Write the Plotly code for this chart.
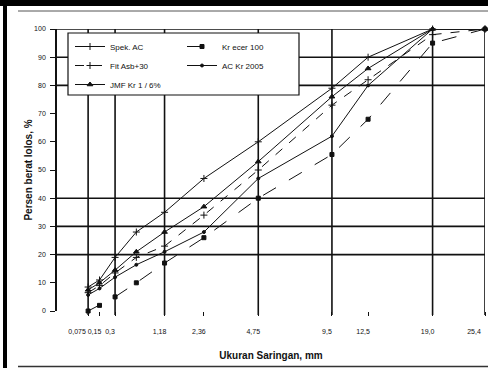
import plotly.graph_objects as go

# ---- data ----
sieve_mm = [0.075, 0.15, 0.3, 0.6, 1.18, 2.36, 4.75, 9.5, 12.5, 19.0, 25.4]

spek_ac = [8.5, 11, 19, 28, 35, 47, 60, 79, 90, 100, 100]
fit_asb = [6.5, 9, 13.5, 19, 23, 34, 50, 73, 82, 98, 100]
jmf_kr = [7.5, 10, 14.5, 21, 28, 37, 53, 76, 86, 100, 100]
kr_ecer = [0, 2, 5, 10, 17, 26, 40, 55.5, 68, 95, 100]
ac_kr = [5.7, 8, 12, 16.4, 21, 28, 47, 62, 80, 100, 100]

# inner tick labels
tick_mm = [0.15, 0.3, 1.18, 2.36, 4.75, 9.5, 12.5, 19.0]
tick_text = ["0,15", "0,3", "1,18", "2,36", "4,75", "9,5", "12,5", "19,0"]
# end tick labels (drawn a little further left, as in the original)
end_tick_mm = [0.075, 25.4]
end_tick_text = ["0,075", "25,4"]

grid_x_mm = [0.075, 0.3, 1.18, 4.75, 9.5, 19.0, 25.4]
grid_y = [20, 30, 40, 80, 90, 100]

POW = 0.45
def tx(d):
    return d ** POW

xs = [tx(d) for d in sieve_mm]

# layout geometry (pixels)
W, H = 488, 368
L, R, T, B = 57, 3, 29, 57
PW, PH = W - L - R, H - T - B

def pxx(px):
    return (px - L) / PW

def pxy(py):
    return (H - B - py) / PH

font = "Liberation Sans, Arial, sans-serif"

fig = go.Figure()

def add(name, ys, dash, symbol, msize, legend):
    fig.add_trace(go.Scatter(
        x=xs, y=ys, name=name, mode="lines+markers",
        line=dict(color="#111111", width=1, dash=dash),
        marker=dict(symbol=symbol, size=msize, color="#111111",
                    line=dict(color="#111111", width=1)),
        legend=legend, cliponaxis=False,
    ))

add("Spek. AC", spek_ac, "solid", "cross-thin", 5, "legend")
add("Fit Asb+30", fit_asb, "dash", "cross-thin", 5, "legend")
add("JMF Kr 1 / 6%", jmf_kr, "solid", "triangle-up", 5, "legend")
add("Kr ecer 100", kr_ecer, "longdash", "square", 4, "legend2")
add("AC Kr 2005", ac_kr, "solid", "circle", 3, "legend2")

shapes = []
for g in grid_x_mm:
    shapes.append(dict(type="line", xref="x", yref="paper", x0=tx(g), x1=tx(g),
                       y0=pxy(315), y1=1.0, line=dict(color="#111111", width=1.6)))
for g in grid_y:
    shapes.append(dict(type="line", xref="paper", yref="y", x0=0, x1=1,
                       y0=g, y1=g, line=dict(color="#111111", width=1.6)))
# legend box
shapes.append(dict(type="rect", xref="paper", yref="paper",
                   x0=pxx(68), x1=pxx(299), y0=pxy(95), y1=pxy(33),
                   fillcolor="white", line=dict(color="#111111", width=1.2), layer="above"))
# outer frame pieces
shapes.append(dict(type="rect", xref="paper", yref="paper",
                   x0=pxx(0), x1=pxx(488), y0=pxy(6), y1=pxy(0),
                   fillcolor="#000000", line=dict(width=0), layer="above"))
shapes.append(dict(type="rect", xref="paper", yref="paper",
                   x0=pxx(3), x1=pxx(7), y0=pxy(368), y1=pxy(0),
                   fillcolor="#000000", line=dict(width=0), layer="above"))
shapes.append(dict(type="line", xref="paper", yref="paper",
                   x0=pxx(18), x1=pxx(488), y0=pxy(11), y1=pxy(11),
                   line=dict(color="#555555", width=1), layer="above"))
shapes.append(dict(type="line", xref="paper", yref="paper",
                   x0=pxx(18), x1=pxx(488), y0=pxy(366.5), y1=pxy(366.5),
                   line=dict(color="#333333", width=1.5), layer="above"))

legend_common = dict(
    font=dict(family=font, size=8, color="#111111"),
    bgcolor="rgba(0,0,0,0)", borderwidth=0, yanchor="top", xanchor="left",
    tracegroupgap=0,
)

xtick_common = dict(
    range=[0, tx(25.4)], showgrid=False, zeroline=False, showline=False,
    tickangle=0, ticks="outside", ticklen=4, tickcolor="#111111",
    tickfont=dict(family=font, size=7, color="#111111"),
    ticklabelstandoff=10, fixedrange=True,
)

fig.update_layout(
    width=W, height=H,
    margin=dict(l=L, r=R, t=T, b=B, pad=0),
    paper_bgcolor="white", plot_bgcolor="white",
    font=dict(family=font, size=8, color="#111111"),
    shapes=shapes,
    legend=dict(x=pxx(70), y=pxy(32), **legend_common),
    legend2=dict(x=pxx(182), y=pxy(32), **legend_common),
    xaxis=dict(
        tickvals=[tx(d) for d in tick_mm], ticktext=tick_text,
        ticklabelshift=-5,
        title=dict(text="Ukuran Saringan, mm", standoff=17,
                   font=dict(family=font, size=10, color="#111111", weight="bold")),
        **xtick_common,
    ),
    xaxis2=dict(
        overlaying="x", anchor="y", side="bottom",
        tickvals=[tx(d) for d in end_tick_mm], ticktext=end_tick_text,
        ticklabelshift=-11,
        **xtick_common,
    ),
    yaxis=dict(
        range=[0, 100], showgrid=False, zeroline=False,
        showline=True, linecolor="#111111", linewidth=1.6,
        tickvals=list(range(0, 101, 10)),
        ticks="outside", ticklen=5, tickcolor="#111111",
        tickfont=dict(family=font, size=7, color="#111111"),
        ticklabelstandoff=3,
        title=dict(text="Persen berat lolos, %", standoff=0,
                   font=dict(family=font, size=10, color="#111111", weight="bold")),
        fixedrange=True,
    ),
    showlegend=True,
)

# invisible carrier trace so the overlay axis is drawn
fig.add_trace(go.Scatter(x=[tx(end_tick_mm[0])], y=[None], xaxis="x2", yaxis="y",
                         showlegend=False, hoverinfo="skip", mode="markers"))

fig.write_html("out.html")
